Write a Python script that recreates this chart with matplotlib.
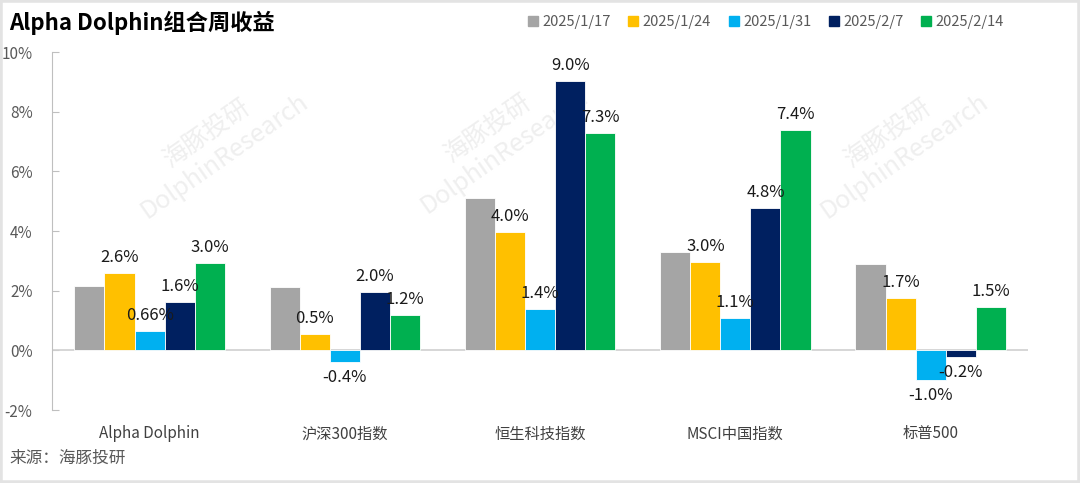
import matplotlib
matplotlib.use("Agg")
import matplotlib.pyplot as plt
from matplotlib.patches import Rectangle
import numpy as np

plt.rcParams['font.family'] = ['Noto Sans CJK SC', 'DejaVu Sans']

categories = ["Alpha Dolphin", "沪深300指数", "恒生科技指数", "MSCI中国指数", "标普500"]
series_names = ["2025/1/17", "2025/1/24", "2025/1/31", "2025/2/7", "2025/2/14"]
s_0117 = [2.15, 2.12, 5.11, 3.28, 2.91]
s_0124 = [2.60, 0.54, 3.98, 2.96, 1.74]
s_0131 = [0.66, -0.40, 1.40, 1.08, -0.98]
s_0207 = [1.62, 1.96, 9.02, 4.76, -0.22]
s_0214 = [2.94, 1.18, 7.29, 7.38, 1.44]
labels_0124 = ["2.6%", "0.5%", "4.0%", "3.0%", "1.7%"]
labels_0131 = ["0.66%", "-0.4%", "1.4%", "1.1%", "-1.0%"]
labels_0207 = ["1.6%", "2.0%", "9.0%", "4.8%", "-0.2%"]
labels_0214 = ["3.0%", "1.2%", "7.3%", "7.4%", "1.5%"]
yticks = [-2, 0, 2, 4, 6, 8, 10]

series = [s_0117, s_0124, s_0131, s_0207, s_0214]
labels = [None, labels_0124, labels_0131, labels_0207, labels_0214]
colors = ["#A5A5A5", "#FFC000", "#00B0F0", "#002060", "#00B050"]

fig = plt.figure(figsize=(10.8, 4.83), dpi=100)
ax = fig.add_axes([0.0481, 0.1511, 0.904, 0.7412])

# faint watermark, behind the bars
for (wx, wy) in [(0.20, 0.70), (0.46, 0.71), (0.83, 0.70)]:
    ax.text(wx, wy, "海豚投研\nDolphinResearch", rotation=35, color="#efefef",
            fontsize=18, ha="center", va="center", zorder=1, linespacing=1.1,
            transform=fig.transFigure, clip_on=False)

x = np.arange(len(categories))
w = 0.154
for i, (vals, c) in enumerate(zip(series, colors)):
    pos = x + (i - 2) * w
    ax.bar(pos, vals, width=w, color=c, edgecolor="white", linewidth=0.6,
           label=series_names[i], zorder=3)
    if labels[i] is not None:
        for p, v, t in zip(pos, vals, labels[i]):
            if v >= 0:
                ax.annotate(t, (p, v), xytext=(0, 5), textcoords="offset points",
                            ha="center", va="bottom", fontsize=12, color="#1a1a1a", zorder=4)
            else:
                ax.annotate(t, (p, v), xytext=(0, -5), textcoords="offset points",
                            ha="center", va="top", fontsize=12, color="#1a1a1a", zorder=4)

ax.set_xlim(-0.5, len(categories) - 0.5)
ax.set_ylim(-2, 10)
ax.set_yticks(yticks)
ax.set_yticklabels([f"{t}%" for t in yticks], fontsize=11, color="#595959")
ax.axhline(0, color="#d0d0d0", linewidth=1.2, zorder=2)
ax.set_xticks(x)
ax.set_xticklabels(categories, fontsize=11, color="#404040")
ax.tick_params(axis="x", length=0, pad=11)
ax.tick_params(axis="y", direction="in", length=5, color="#bfbfbf", pad=14)
for s in ["top", "right", "bottom"]:
    ax.spines[s].set_visible(False)
ax.spines["left"].set_color("#bfbfbf")
ax.patch.set_alpha(0)

fig.text(0.008, 0.952, "Alpha Dolphin组合周收益", fontsize=16, fontweight="bold",
         color="#000000", ha="left", va="center")
fig.text(0.009, 0.052, "来源：海豚投研", fontsize=12, color="#595959", ha="left", va="center")

handles = [Rectangle((0, 0), 1, 1, color=c) for c in colors]
fig.legend(handles, series_names, loc="center right", bbox_to_anchor=(0.942, 0.955),
           ncol=5, frameon=False, fontsize=10.5, handlelength=0.7, handleheight=0.7,
           handletextpad=0.3, columnspacing=1.2, labelcolor="#595959")

fig.patches.append(Rectangle((0, 0), 1, 1, transform=fig.transFigure, fill=False,
                             edgecolor="#e3e3e3", linewidth=4, zorder=10))

fig.savefig("out.png", dpi=100)
